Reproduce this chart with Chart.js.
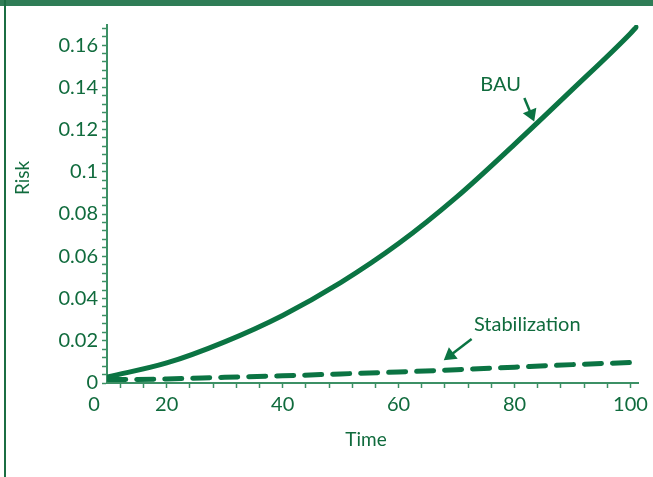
<!DOCTYPE html>
<html>
<head>
<meta charset="utf-8">
<script src="https://cdn.jsdelivr.net/npm/chart.js@4.4.0/dist/chart.umd.min.js"></script>
<style>
  html, body { margin: 0; padding: 0; background: #fff; }
  #wrap { position: relative; width: 653px; height: 477px; overflow: hidden; }
  #topbar { position: absolute; left: 0; top: 0; width: 653px; height: 6px; background: #2f7d56; }
  #leftbar { position: absolute; left: 4px; top: 0; width: 2px; height: 477px; background: #1b6e43; }
  canvas { position: absolute; left: 0; top: 0; }
</style>
</head>
<body>
<div id="wrap">
  <canvas id="chart" width="653" height="477"></canvas>
  <div id="topbar"></div>
  <div id="leftbar"></div>
</div>
<script>
// data
const time = [10, 20, 30, 40, 50, 60, 70, 80, 90, 100, 101];
const bauRisk = [0.003, 0.0095, 0.0195, 0.032, 0.0475, 0.066, 0.088, 0.113, 0.139, 0.1655, 0.1685];
const stabRisk = [0.0016, 0.0019, 0.0027, 0.0034, 0.0043, 0.0052, 0.0063, 0.0075, 0.0087, 0.0097, 0.0098];

// labelled ticks
const xTickLabels = [20, 40, 60, 80, 100];
const yTickLabels = [0, 0.02, 0.04, 0.06, 0.08, 0.1, 0.12, 0.14, 0.16];

const lineColor = "#0b7443";
const textColor = "#106b3d";
const axisColor = "#3c9065";
const fontFamily = "Lato, 'Open Sans', sans-serif";

// text notes with arrows, in data coordinates
const notes = [
    {text: "BAU", at: [77.6, 0.1415], from: [81.7, 0.1349], to: [83.4, 0.1238]},
    {text: "Stabilization", at: [82.2, 0.0275], from: [72.6, 0.0208], to: [67.8, 0.0108]},
];

function drawArrow(ctx, x1, y1, x2, y2) {
    const ang = Math.atan2(y2 - y1, x2 - x1);
    const head = 14;
    ctx.beginPath();
    ctx.moveTo(x1, y1);
    ctx.lineTo(x2 - Math.cos(ang) * head * 0.8, y2 - Math.sin(ang) * head * 0.8);
    ctx.stroke();
    ctx.beginPath();
    ctx.moveTo(x2, y2);
    ctx.lineTo(x2 - head * Math.cos(ang - 0.55), y2 - head * Math.sin(ang - 0.55));
    ctx.lineTo(x2 - head * Math.cos(ang + 0.55), y2 - head * Math.sin(ang + 0.55));
    ctx.closePath();
    ctx.fill();
}

const annotate = {
    id: "annotate",
    afterDraw(chart) {
        const {ctx, scales: {x, y}} = chart;
        ctx.save();
        ctx.fillStyle = textColor;
        ctx.strokeStyle = lineColor;
        ctx.lineWidth = 2.5;
        ctx.textAlign = "center";
        ctx.textBaseline = "middle";
        ctx.font = "19px " + fontFamily;
        // axis titles
        ctx.fillText("Time", 366, 440);
        ctx.save();
        ctx.translate(23, 178);
        ctx.rotate(-Math.PI / 2);
        ctx.fillText("Risk", 0, 0);
        ctx.restore();
        // zero at the corner of the time axis
        ctx.font = "20px " + fontFamily;
        ctx.fillText("0", 94, 405);
        // curve notes
        ctx.font = "20px " + fontFamily;
        notes.forEach((n) => {
            ctx.fillText(n.text, x.getPixelForValue(n.at[0]), y.getPixelForValue(n.at[1]));
        });
        ctx.fillStyle = lineColor;
        notes.forEach((n) => {
            drawArrow(ctx,
                x.getPixelForValue(n.from[0]), y.getPixelForValue(n.from[1]),
                x.getPixelForValue(n.to[0]), y.getPixelForValue(n.to[1]));
        });
        ctx.restore();
    },
};

new Chart(document.getElementById("chart"), {
    type: "line",
    data: {
        datasets: [
            {
                label: "BAU",
                data: time.map((t, i) => ({x: t, y: bauRisk[i]})),
                borderColor: lineColor,
                borderWidth: 5,
                borderCapStyle: "round",
                pointRadius: 0,
                cubicInterpolationMode: "monotone",
            },
            {
                label: "Stabilization",
                data: time.map((t, i) => ({x: t, y: stabRisk[i]})),
                borderColor: lineColor,
                borderWidth: 5,
                borderDash: [17, 11],
                borderCapStyle: "round",
                pointRadius: 0,
                cubicInterpolationMode: "monotone",
            },
        ],
    },
    options: {
        responsive: false,
        animation: false,
        devicePixelRatio: 1,
        layout: {padding: {top: 25, right: 11, left: 0, bottom: 0}},
        plugins: {legend: {display: false}, tooltip: {enabled: false}},
        scales: {
            x: {
                type: "linear",
                min: 9.7,
                max: 101.4,
                afterFit: (scale) => { scale.height = 94; },
                border: {color: axisColor, width: 2},
                grid: {drawOnChartArea: false, color: axisColor, tickLength: 5, tickWidth: 1.5},
                ticks: {
                    stepSize: 4,
                    includeBounds: false,
                    autoSkip: false,
                    maxRotation: 0,
                    padding: 5,
                    color: textColor,
                    font: {family: fontFamily, size: 20},
                    callback: (v) => (xTickLabels.includes(v) ? String(v) : ""),
                },
            },
            y: {
                min: 0,
                max: 0.1695,
                afterFit: (scale) => { scale.width = 107; },
                border: {color: axisColor, width: 2},
                grid: {drawOnChartArea: false, color: axisColor, tickLength: 5, tickWidth: 1.5},
                ticks: {
                    stepSize: 0.004,
                    includeBounds: false,
                    autoSkip: false,
                    padding: 4,
                    color: textColor,
                    font: {family: fontFamily, size: 20},
                    callback: (v) => {
                        const hit = yTickLabels.find((l) => Math.abs(l - v) < 1e-9);
                        return hit === undefined ? "" : String(hit);
                    },
                },
            },
        },
    },
    plugins: [annotate],
});
</script>
</body>
</html>
